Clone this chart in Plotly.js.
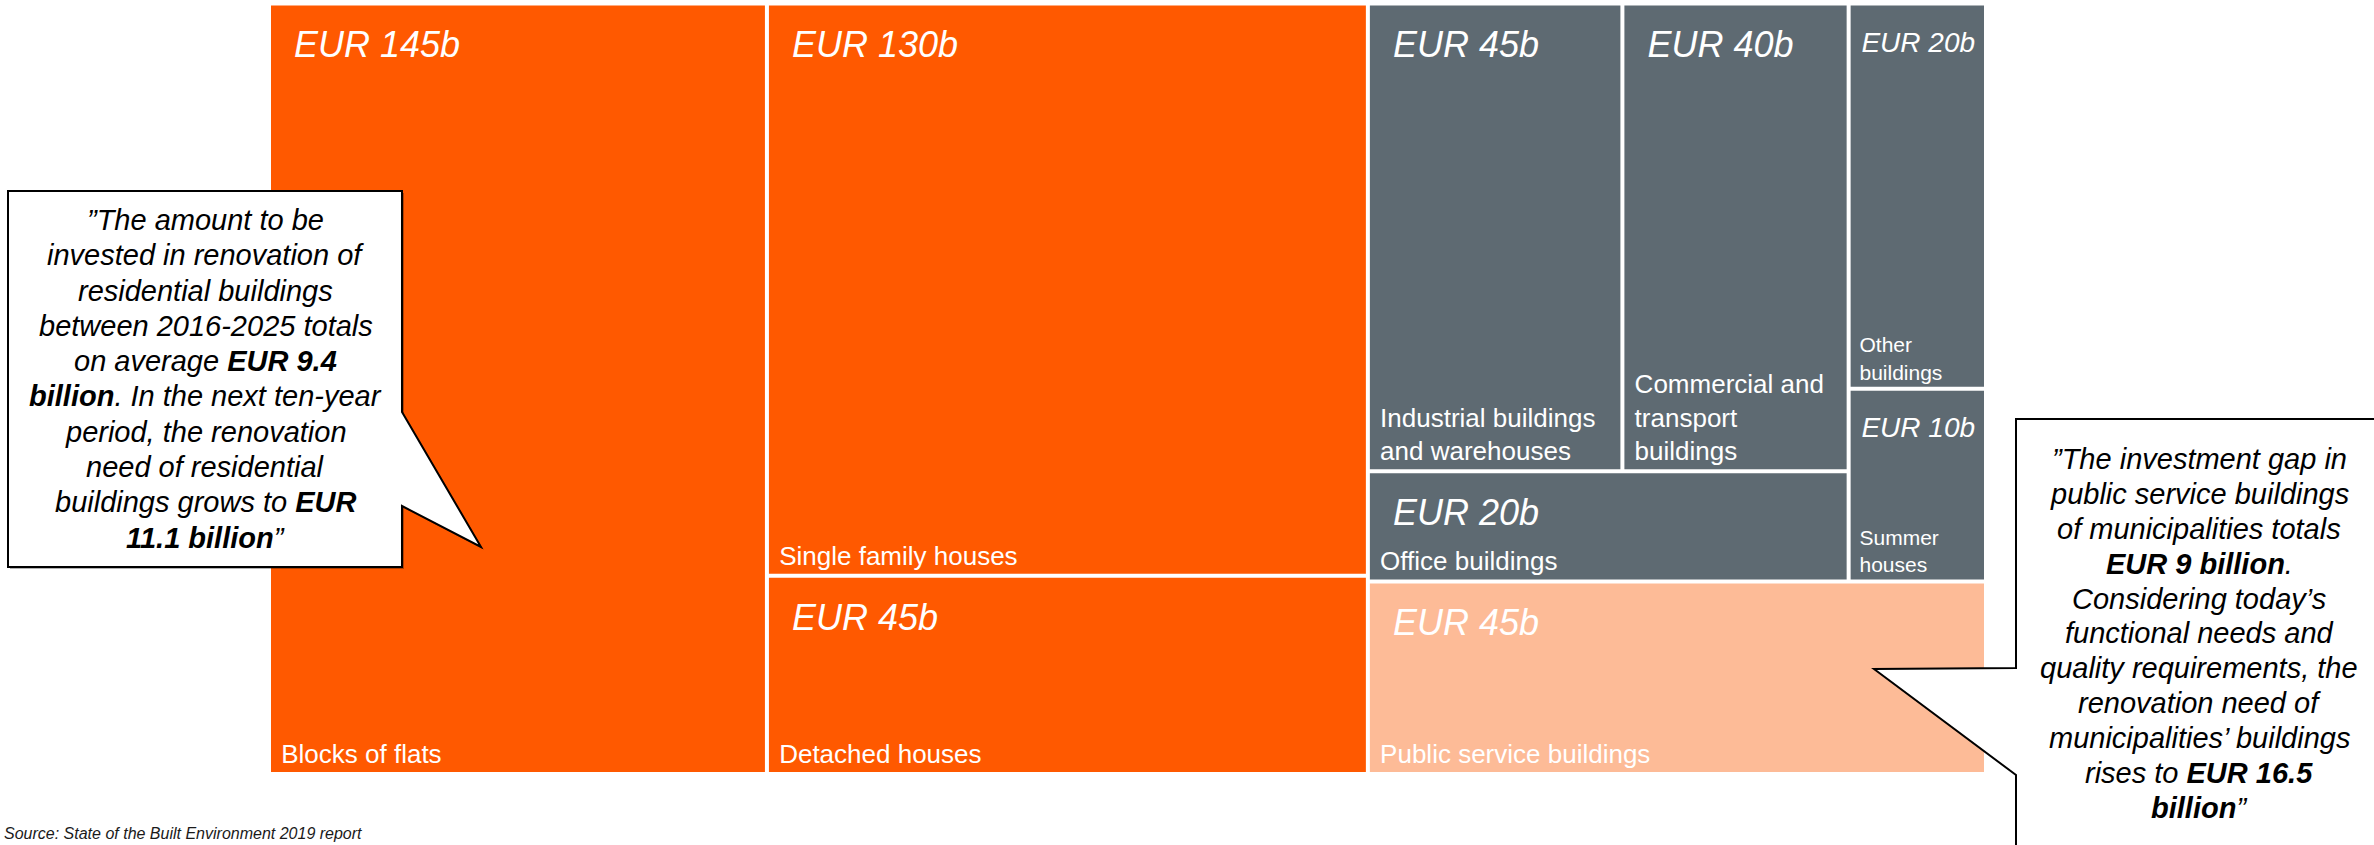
<!DOCTYPE html>
<html>
<head>
<meta charset="utf-8">
<script src="https://cdn.plot.ly/plotly-3.0.1.min.js"></script>
<style>
html, body { margin: 0; padding: 0; background: #ffffff; }
#chart { width: 2374px; height: 845px; }
</style>
</head>
<body>
<div id="chart"></div>
<script>
// ---------------- DATA ----------------
const categories = ['Blocks of flats', 'Single family houses', 'Detached houses',
  'Industrial buildings and warehouses', 'Commercial and transport buildings',
  'Office buildings', 'Other buildings', 'Summer houses', 'Public service buildings'];
const categoryIds = ['blocks', 'single', 'detached', 'industrial', 'commercial',
  'office', 'other', 'summer', 'public'];
const valuesEURb = [145, 130, 45, 45, 40, 20, 20, 10, 45];
const sectors = ['residential', 'residential', 'residential', 'non-residential', 'non-residential',
  'non-residential', 'non-residential', 'non-residential', 'public'];
const tileLabels = ['Blocks of flats', 'Single family houses', 'Detached houses',
  'Industrial buildings<br>and warehouses', 'Commercial and<br>transport<br>buildings',
  'Office buildings', 'Other<br>buildings', 'Summer<br>houses', 'Public service buildings'];

// grouping used for the nested layout
const groupChildren = {
  total: ['blocks', 'res', 'nonres'],
  res: ['single', 'detached'],
  nonres: ['nrtop', 'public'],
  nrtop: ['nrleft', 'nrright'],
  nrleft: ['indcom', 'office'],
  indcom: ['industrial', 'commercial'],
  nrright: ['other', 'summer']
};

const leftQuoteLines = [
  '\u201DThe amount to be',
  'invested in renovation of',
  'residential buildings',
  'between 2016-2025 totals',
  'on average <b>EUR 9.4</b>',
  '<b>billion</b>. In the next ten-year',
  'period, the renovation',
  'need of residential',
  'buildings grows to <b>EUR</b>',
  '<b>11.1 billion</b>\u201D'
];
const rightQuoteLines = [
  '\u201DThe investment gap in',
  'public service buildings',
  'of municipalities totals',
  '<b>EUR 9 billion</b>.',
  'Considering today\u2019s',
  'functional needs and',
  'quality requirements, the',
  'renovation need of',
  'municipalities\u2019 buildings',
  'rises to <b>EUR 16.5</b>',
  '<b>billion</b>\u201D'
];
const sourceText = 'Source: State of the Built Environment 2019 report';

// ---------------- STYLE ----------------
const FONT = 'Liberation Sans, Arial, Helvetica, sans-serif';
const sectorColors = {
  'residential': '#FF5900',
  'non-residential': '#5E6A72',
  'public': '#FDBB97'
};
const smallTiles = ['other', 'summer'];
const W = 2374, H = 845;
const px = x => x / W;
const py = y => 1 - y / H;

// ---------------- BUILD HIERARCHY ----------------
const ids = [], parents = [], labels = [], values = [], colors = [];
const valueTexts = [], nameTexts = [], valueSizes = [], nameSizes = [];

function addNode(id, parent) {
  const li = categoryIds.indexOf(id);
  ids.push(id);
  parents.push(parent);
  if (li >= 0) {
    const small = smallTiles.indexOf(id) >= 0;
    labels.push(categories[li]);
    values.push(valuesEURb[li]);
    colors.push(sectorColors[sectors[li]]);
    const pad = small ? '\u00a0' : '\u00a0\u00a0';
    const spacer = small ? 8 : 2;
    valueTexts.push('<span style="font-size:' + spacer + 'px">\u00a0</span><br>' + pad +
      '<i>EUR ' + valuesEURb[li] + 'b</i>');
    nameTexts.push(tileLabels[li].split('<br>').map(s => '\u00a0' + s).join('<br>'));
    valueSizes.push(small ? 28 : 36);
    nameSizes.push(small ? 21 : 26);
  } else {
    labels.push(id);
    values.push(0);
    colors.push('#ffffff');
    valueTexts.push('');
    nameTexts.push('');
    valueSizes.push(10);
    nameSizes.push(10);
    (groupChildren[id] || []).forEach(c => addNode(c, id));
  }
}
addNode('total', '');

const domain = { x: [px(271), px(1984)], y: [py(772), py(5.5)] };

const common = {
  type: 'treemap',
  ids: ids, parents: parents, labels: labels, values: values,
  branchvalues: 'remainder', sort: false,
  textinfo: 'text',
  tiling: { packing: 'slice-dice', pad: 4 },
  pathbar: { visible: false },
  leaf: { opacity: 1 },
  domain: domain,
  hoverinfo: 'none'
};

const tilesTrace = Object.assign({}, common, {
  text: valueTexts,
  textposition: 'top left',
  textfont: { family: FONT, size: valueSizes, color: '#ffffff' },
  insidetextfont: { family: FONT, size: valueSizes, color: '#ffffff' },
  marker: { colors: colors, line: { width: 0 }, pad: { t: 0, l: 0, r: 0, b: 0 }, depthfade: false }
});

const namesTrace = Object.assign({}, common, {
  text: nameTexts,
  textposition: 'bottom left',
  textfont: { family: FONT, size: nameSizes, color: '#ffffff' },
  insidetextfont: { family: FONT, size: nameSizes, color: '#ffffff' },
  marker: { colors: ids.map(() => 'rgba(0,0,0,0)'), line: { width: 0 }, pad: { t: 0, l: 0, r: 0, b: 0 }, depthfade: false }
});

// ---------------- CALLOUTS ----------------
function pathFrom(pts) {
  return pts.map((p, i) => (i ? 'L' : 'M') + px(p[0]).toFixed(5) + ',' + py(p[1]).toFixed(5)).join(' ') + ' Z';
}
const leftBox = [[8, 191], [402, 191], [402, 412], [481, 547], [402, 506], [402, 567], [8, 567]];
const rightBox = [[2016, 419], [2420, 419], [2420, 880], [2016, 880], [2016, 775], [1874, 669], [2016, 668]];
const shift = (pts, d) => pts.map(p => [p[0] + d, p[1] + d]);

const shapes = [
  { type: 'path', xref: 'paper', yref: 'paper', layer: 'above', path: pathFrom(shift(leftBox, 2)),
    fillcolor: 'rgba(0,0,0,0.3)', line: { width: 0 } },
  { type: 'path', xref: 'paper', yref: 'paper', layer: 'above', path: pathFrom(leftBox),
    fillcolor: '#ffffff', line: { color: '#000000', width: 2 } },
  { type: 'path', xref: 'paper', yref: 'paper', layer: 'above', path: pathFrom(rightBox),
    fillcolor: '#ffffff', line: { color: '#000000', width: 2 } }
];

const annotations = [];
const QF = 29;
leftQuoteLines.forEach((t, i) => {
  const base = 230 + 35.3 * i;
  annotations.push({ xref: 'paper', yref: 'paper', x: px(205.5), y: py(base - 0.3465 * QF),
    xanchor: 'center', yanchor: 'middle', showarrow: false, text: '<i>' + t + '</i>',
    font: { family: FONT, size: QF, color: '#000000' } });
});
rightQuoteLines.forEach((t, i) => {
  const base = 469 + 34.9 * i;
  annotations.push({ xref: 'paper', yref: 'paper', x: px(2199), y: py(base - 0.3465 * QF),
    xanchor: 'center', yanchor: 'middle', showarrow: false, text: '<i>' + t + '</i>',
    font: { family: FONT, size: QF, color: '#000000' } });
});
annotations.push({ xref: 'paper', yref: 'paper', x: px(2), y: py(833.5),
  xanchor: 'left', yanchor: 'middle', showarrow: false, text: '<i>' + sourceText + '</i>',
  font: { family: FONT, size: 16, color: '#1a1a1a' } });

const layout = {
  width: W, height: H,
  margin: { l: 0, r: 0, t: 0, b: 0 },
  paper_bgcolor: '#ffffff',
  font: { family: FONT },
  showlegend: false,
  shapes: shapes,
  annotations: annotations
};

Plotly.newPlot('chart', [tilesTrace, namesTrace], layout, { displayModeBar: false, staticPlot: true });
</script>
</body>
</html>
